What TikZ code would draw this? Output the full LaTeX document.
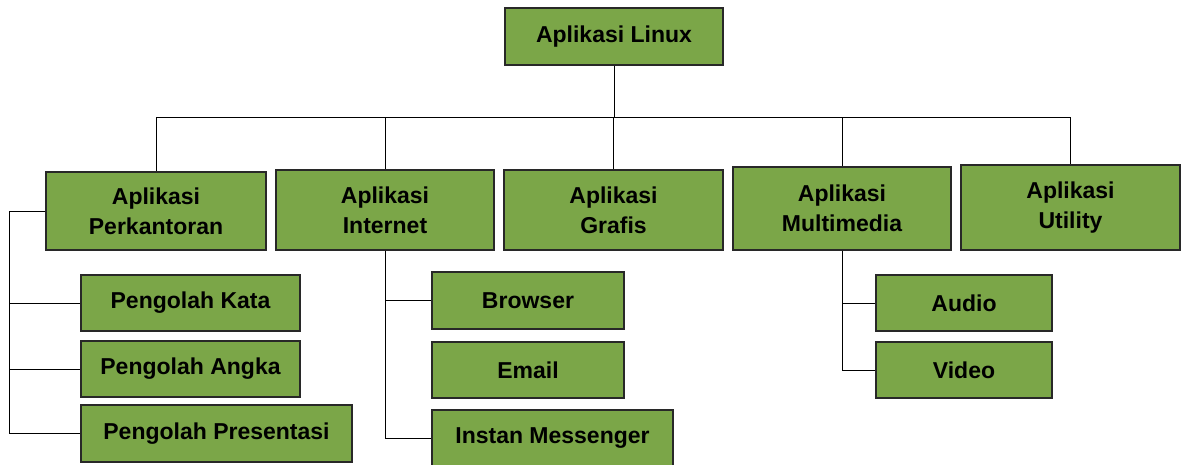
\documentclass[tikz,border=0pt]{standalone}
\usepackage{fontspec}
\setmainfont{Liberation Sans}
\usetikzlibrary{positioning}

\definecolor{hijau}{RGB}{123,166,72}
\definecolor{garis}{RGB}{40,40,40}

\begin{document}
\begin{tikzpicture}[
x=1pt, y=-1pt,
kotak/.style={draw=garis, fill=hijau, line width=1.1pt, inner sep=0pt, align=center,
  font=\fontsize{23}{30}\selectfont\bfseries},
sambung/.style={draw=black, line width=0.9pt}
]
\useasboundingbox (0,0) rectangle (1181,465);
% tingkat atas
\node[kotak, minimum width=218pt, minimum height=57pt] (root) at (614,36.5) {Aplikasi Linux};
% tingkat kedua
\node[kotak, minimum width=220pt, minimum height=78pt] (per) at (156,211) {Aplikasi\\Perkantoran};
\node[kotak, minimum width=218pt, minimum height=80pt] (int) at (385,210) {Aplikasi\\Internet};
\node[kotak, minimum width=219pt, minimum height=80pt] (gra) at (613.5,210) {Aplikasi\\Grafis};
\node[kotak, minimum width=218pt, minimum height=83pt] (mm) at (842,208.5) {Aplikasi\\Multimedia};
\node[kotak, minimum width=219pt, minimum height=85pt] (uti) at (1070.5,207.5) {Aplikasi\\Utility};
% tingkat ketiga
\node[kotak, minimum width=219pt, minimum height=56pt] (kata) at (190.5,303) {Pengolah Kata};
\node[kotak, minimum width=219pt, minimum height=56pt] (angka) at (190.5,369) {Pengolah Angka};
\node[kotak, minimum width=271pt, minimum height=57pt] (pres) at (216.5,433.5) {Pengolah Presentasi};
\node[kotak, minimum width=192pt, minimum height=57pt] (brow) at (528,300.5) {Browser};
\node[kotak, minimum width=192pt, minimum height=56pt] (email) at (528,370) {Email};
\node[kotak, minimum width=241pt, minimum height=56pt] (im) at (552.5,438) {Instan Messenger};
\node[kotak, minimum width=176pt, minimum height=56pt] (audio) at (964,303) {Audio};
\node[kotak, minimum width=176pt, minimum height=56pt] (video) at (964,370) {Video};
% garis penghubung
\coordinate (bus) at (614,117);
\coordinate (kiri) at (9,211);
\draw[sambung] (root.south) -- (bus);
\foreach \n in {per,int,gra,mm,uti}
  \draw[sambung] (bus) -| (\n.north);
\foreach \n in {kata,angka,pres}
  \draw[sambung] (per.west) -- (kiri) |- (\n.west);
\draw[sambung] (int.south) |- (brow.west);
\draw[sambung] (int.south) |- (im.west);
\draw[sambung] (mm.south) |- (audio.west);
\draw[sambung] (mm.south) |- (video.west);
\end{tikzpicture}
\end{document}
